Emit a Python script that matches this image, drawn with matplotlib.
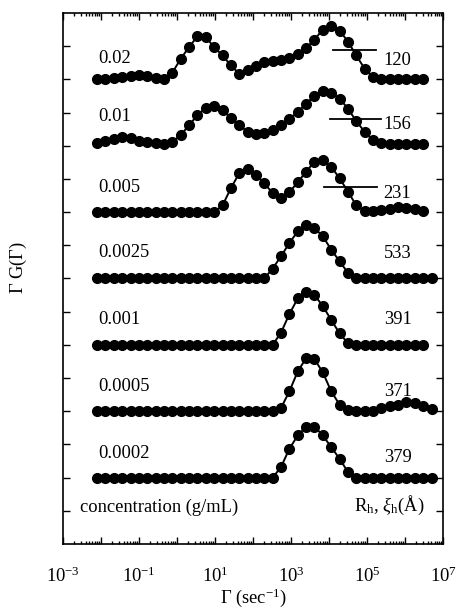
import numpy as np
import matplotlib
matplotlib.use("Agg")
import matplotlib.pyplot as plt
from matplotlib.ticker import NullFormatter, FixedLocator

plt.rcParams["font.family"] = ["Liberation Serif", "DejaVu Serif"]
plt.rcParams["mathtext.fontset"] = "custom"
plt.rcParams["mathtext.rm"] = "Liberation Serif"
plt.rcParams["mathtext.it"] = "Liberation Serif:italic"

# -----------------------------
# Data (log10 of decay rate, sec^-1)
# -----------------------------

log_gamma = [-2.10, -1.88, -1.66, -1.44, -1.22, -1.00, -0.78, -0.56, -0.34, -0.12,
             0.10, 0.32, 0.54, 0.76, 0.98, 1.20, 1.42, 1.64, 1.86, 2.08,
             2.30, 2.52, 2.74, 2.96, 3.18, 3.40, 3.62, 3.84, 4.06, 4.28,
             4.50, 4.72, 4.94, 5.16, 5.38, 5.60, 5.82, 6.04, 6.26, 6.48,
             6.70]

concentrations = ["0.02", "0.01", "0.005", "0.0025", "0.001", "0.0005", "0.0002"]
sizes = ["120", "156", "231", "533", "391", "371", "379"]
offsets = [14, 12, 10, 8, 6, 4, 2]

g_002 = [0.02, 0.02, 0.04, 0.07, 0.10, 0.14, 0.10, 0.04, 0.02,
         0.20, 0.62, 0.97, 1.30, 1.27, 0.97, 0.72, 0.42, 0.17, 0.27,
         0.40, 0.52, 0.55, 0.57, 0.64, 0.77, 0.94, 1.20, 1.50, 1.62,
         1.47, 1.14, 0.72, 0.32, 0.07,
         0.02, 0.02, 0.02, 0.02, 0.02, 0.02]

g_001 = [0.07, 0.15, 0.20, 0.27, 0.22, 0.15, 0.10, 0.07, 0.04, 0.12,
         0.32, 0.62, 0.92, 1.14, 1.20, 1.07, 0.84, 0.62, 0.42, 0.35,
         0.37, 0.47, 0.62, 0.80, 1.02, 1.27, 1.50, 1.64, 1.60, 1.42,
         1.12, 0.74, 0.42, 0.17, 0.07,
         0.04, 0.04, 0.04, 0.04, 0.04]

g_0005 = [0.0] * 15 + [0.20, 0.72, 1.17, 1.30, 1.12, 0.87, 0.57, 0.42, 0.60,
                       0.90, 1.22, 1.52, 1.57, 1.37, 1.02, 0.62, 0.20,
                       0.04, 0.04, 0.06, 0.10, 0.14, 0.12, 0.10, 0.04]

g_00025 = [0.0] * 21 + [0.30, 0.67, 1.07, 1.42, 1.60, 1.52, 1.27, 0.87, 0.52,
                        0.17] + [0.0] * 10

g_0001 = [0.0] * 22 + [0.37, 0.93, 1.40, 1.60, 1.50, 1.17, 0.75, 0.35,
                       0.05] + [0.0] * 9

g_00005 = [0.0] * 22 + [0.10, 0.60, 1.20, 1.60, 1.57, 1.17, 0.60, 0.20, 0.03,
                        0.0, 0.0, 0.02, 0.10, 0.15, 0.20, 0.27, 0.25, 0.17,
                        0.07]

g_00002 = [0.0] * 22 + [0.32, 0.87, 1.27, 1.54, 1.54, 1.27, 0.92, 0.57,
                        0.17] + [0.0] * 10

series = [g_002, g_001, g_0005, g_00025, g_0001, g_00005, g_00002]

# horizontal bars (log10 start, log10 end, height above baseline)
bar_x0 = [4.12, 4.04, 3.86]
bar_x1 = [5.23, 5.36, 5.26]
bar_h = [0.87, 0.81, 0.75]

conc_label_y = [0.63, 0.87, 0.75, 0.78, 0.75, 0.75, 0.72]
size_label_y = [0.57, 0.63, 0.57, 0.75, 0.75, 0.60, 0.60]

decades = list(range(-3, 8))

# -----------------------------
# Plot
# -----------------------------

fig = plt.figure(figsize=(4.59, 6.09), dpi=100)
ax = fig.add_axes([0.137, 0.1067, 0.828, 0.872])

for vals, off in zip(series, offsets):
    x = 10 ** np.array(log_gamma[:len(vals)])
    y = np.array(vals) + off
    ax.plot(x, y, color="black", lw=1.4, marker="o", ms=7,
            markerfacecolor="black", markeredgecolor="black")

for x0, x1, h, off in zip(bar_x0, bar_x1, bar_h, offsets):
    ax.plot([10 ** x0, 10 ** x1], [off + h, off + h], color="black", lw=1.3)

for lab, off, dy in zip(concentrations, offsets, conc_label_y):
    ax.text(10 ** -2.08, off + dy, lab, fontsize=13.3, va="center", ha="left")

for lab, off, dy in zip(sizes, offsets, size_label_y):
    ax.text(10 ** 5.44, off + dy, lab, fontsize=13.3, va="center", ha="left")

ax.text(10 ** -2.55, 1.1, "concentration (g/mL)", fontsize=13.3,
        va="center", ha="left")
ax.text(10 ** 4.66, 1.15, r"R$_\mathrm{h}$, $\xi_\mathrm{h}$(Å)", fontsize=13.3,
        va="center", ha="left")

# -----------------------------
# Axes formatting
# -----------------------------

ax.set_xscale("log")
ax.set_xlim(1e-3, 1e7)
ax.set_ylim(0, 16)

minor = [m * 10.0 ** e for e in decades[:-1] for m in range(2, 10)]
ax.xaxis.set_major_locator(FixedLocator([10.0 ** e for e in decades]))
ax.xaxis.set_minor_locator(FixedLocator(minor))
ax.xaxis.set_minor_formatter(NullFormatter())
ax.set_xticklabels(["$10^{%d}$" % e if e % 2 else "" for e in decades])

ax.set_yticks(range(1, 16))
ax.set_yticklabels([])

ax.tick_params(which="both", direction="in", top=True, right=True, width=1.0)
ax.tick_params(which="major", length=5, labelsize=13.3, pad=16)
ax.tick_params(which="minor", length=2.5)
for s in ax.spines.values():
    s.set_linewidth(1.2)

fig.text(253 / 459, 1 - 598 / 609, r"$\Gamma$ (sec$^{-1}$)", fontsize=13.3,
         ha="center", va="center")
fig.text(18 / 459, 1 - 268 / 609, r"$\Gamma$ G($\Gamma$)", fontsize=13.3,
         ha="center", va="center", rotation=90)

plt.savefig("out.png", dpi=100)
